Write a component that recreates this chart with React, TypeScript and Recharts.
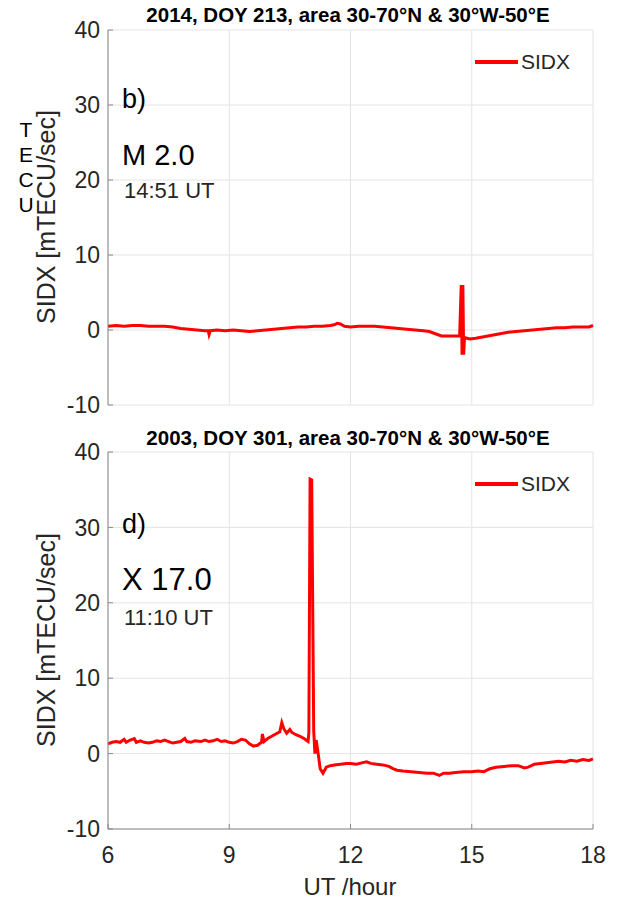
import React from 'react';
import { LineChart, Line, XAxis, YAxis, CartesianGrid, Legend } from 'recharts';

// 2014, DOY 213 (M 2.0 flare)
const hoursB = [
  6.0, 6.2, 6.4, 6.6, 6.8, 7.0, 7.2, 7.4, 7.6, 7.8, 8.0, 8.2, 8.4, 8.48, 8.5, 8.53,
  8.7, 8.9, 9.1, 9.3, 9.5, 9.7, 9.9, 10.1, 10.3, 10.5, 10.7, 10.9, 11.1, 11.3, 11.5,
  11.6, 11.67, 11.75, 11.85, 12.0, 12.2, 12.4, 12.6, 12.8, 13.0, 13.2, 13.4, 13.6,
  13.8, 13.95, 14.1, 14.25, 14.4, 14.55, 14.7, 14.74, 14.76, 14.78, 14.8, 14.82,
  14.95, 15.1, 15.3, 15.5, 15.7, 15.9, 16.1, 16.3, 16.5, 16.7, 16.9, 17.1, 17.3,
  17.5, 17.7, 17.9, 18.0,
];
const sidxB = [
  0.5, 0.6, 0.5, 0.6, 0.6, 0.5, 0.5, 0.5, 0.4, 0.2, 0.1, 0.0, -0.1, -0.1, -0.6, -0.1,
  0.0, -0.1, 0.0, -0.1, -0.2, -0.1, 0.0, 0.1, 0.2, 0.3, 0.4, 0.4, 0.5, 0.5, 0.6,
  0.7, 0.9, 0.8, 0.5, 0.4, 0.5, 0.5, 0.5, 0.4, 0.3, 0.2, 0.1, 0.0,
  -0.1, -0.2, -0.5, -0.8, -0.8, -0.8, -0.8, 6.0, -3.3, 6.0, -3.3, -1.0,
  -1.2, -1.1, -0.9, -0.7, -0.5, -0.3, -0.2, -0.1, 0.0, 0.1, 0.2, 0.3, 0.3,
  0.4, 0.4, 0.4, 0.6,
];

// 2003, DOY 301 (X 17.0 flare)
const hoursD = [
  6.0, 6.1, 6.2, 6.3, 6.4, 6.45, 6.55, 6.65, 6.7, 6.8, 6.9, 7.0, 7.1, 7.2, 7.3, 7.4,
  7.5, 7.6, 7.7, 7.8, 7.9, 7.95, 8.05, 8.15, 8.3, 8.4, 8.5, 8.6, 8.7, 8.8, 8.9, 9.0,
  9.1, 9.2, 9.3, 9.4, 9.5, 9.6, 9.7, 9.8, 9.82, 9.86, 9.95, 10.05, 10.15, 10.25,
  10.3, 10.35, 10.42, 10.5, 10.55, 10.65, 10.75, 10.85, 10.95, 10.97, 11.0, 11.04,
  11.09, 11.12, 11.15, 11.2, 11.25, 11.32, 11.4, 11.5, 11.6, 11.75, 11.9, 12.0,
  12.15, 12.3, 12.4, 12.5, 12.65, 12.8, 12.95, 13.05, 13.15, 13.3, 13.5, 13.7, 13.9,
  14.05, 14.2, 14.3, 14.45, 14.6, 14.8, 15.0, 15.15, 15.3, 15.45, 15.6, 15.8, 16.0,
  16.15, 16.3, 16.4, 16.55, 16.7, 16.85, 17.0, 17.15, 17.3, 17.45, 17.6, 17.75,
  17.9, 18.0,
];
const sidxD = [
  1.3, 1.5, 1.6, 1.5, 1.9, 1.5, 1.8, 2.0, 1.5, 1.7, 1.5, 1.4, 1.5, 1.7, 1.6, 1.8,
  1.6, 1.4, 1.5, 1.6, 2.0, 1.6, 1.5, 1.7, 1.6, 1.8, 1.6, 1.7, 1.9, 1.6, 1.7, 1.5,
  1.4, 1.6, 1.9, 1.8, 1.3, 1.0, 1.1, 1.5, 2.6, 1.6, 2.0, 2.3, 2.6, 2.9,
  4.1, 3.3, 2.7, 3.2, 2.8, 2.5, 2.3, 2.0, 1.6, 2.8, 36.4, 36.3,
  3.0, 0.0, 1.8, 0.0, -2.0, -2.6, -1.8, -1.6, -1.5, -1.4, -1.3, -1.3,
  -1.4, -1.2, -1.1, -1.3, -1.4, -1.5, -1.7, -2.0, -2.2, -2.3, -2.4, -2.5, -2.6,
  -2.6, -2.9, -2.6, -2.6, -2.5, -2.4, -2.4, -2.3, -2.4, -2.0, -1.8, -1.7, -1.6,
  -1.6, -1.9, -1.8, -1.4, -1.3, -1.2, -1.1, -1.0, -1.1, -0.9, -1.0, -0.8,
  -0.9, -0.7,
];

const xTicks = [6, 9, 12, 15, 18];
const yTicks = [-10, 0, 10, 20, 30, 40];
const tecuLetters = ['T', 'E', 'C', 'U'];

const rowsB = hoursB.map((h, i) => ({ ut: h, sidx: sidxB[i] }));
const rowsD = hoursD.map((h, i) => ({ ut: h, sidx: sidxD[i] }));

const FONT = '"Liberation Sans", Arial, Helvetica, sans-serif';
const AXIS = '#8a8a8a';
const INK = '#262626';

const LegendBox = () => (
  <svg width={120} height={30}>
    <line x1={5} y1={15} x2={48} y2={15} stroke="#ff0000" strokeWidth={4} />
    <text x={51} y={22} fontSize={21} fill={INK} fontFamily={FONT}>SIDX</text>
  </svg>
);

interface PanelProps {
  rows: { ut: number; sidx: number }[];
  height: number;
  top: number;
  bottom: number;
  bottomAxis: number;
  showLabels: boolean;
}

const Panel = ({ rows, height, top, bottom, bottomAxis, showLabels }: PanelProps) => (
  <LineChart
    width={625}
    height={height}
    data={rows}
    margin={{ top, right: 32, bottom, left: 58 }}
    style={{ fontFamily: FONT }}
  >
    <CartesianGrid stroke="#e4e4e4" strokeWidth={1} />
    <XAxis
      dataKey="ut"
      type="number"
      domain={[6, 18]}
      ticks={xTicks}
      interval={0}
      height={bottomAxis}
      stroke={AXIS}
      tickSize={-5}
      tickMargin={23}
      tick={{ fill: INK, fontSize: 23 }}
      tickFormatter={(v: number) => (showLabels ? String(v) : '')}
    />
    <XAxis
      xAxisId="top"
      orientation="top"
      type="number"
      domain={[6, 18]}
      ticks={xTicks}
      interval={0}
      height={0}
      stroke={AXIS}
      tickSize={-5}
      tickFormatter={() => ''}
    />
    <YAxis
      type="number"
      domain={[-10, 40]}
      ticks={yTicks}
      interval={0}
      width={50}
      stroke={AXIS}
      tickSize={-5}
      tickMargin={13}
      tick={{ fill: INK, fontSize: 23 }}
    />
    <YAxis
      yAxisId="right"
      orientation="right"
      type="number"
      domain={[-10, 40]}
      ticks={yTicks}
      interval={0}
      width={0}
      stroke={AXIS}
      tickSize={-5}
      tickFormatter={() => ''}
    />
    <Legend
      layout="vertical"
      align="center"
      verticalAlign="middle"
      wrapperStyle={{ position: 'absolute', left: 470, top: top + 17, width: 120 }}
      content={() => <LegendBox />}
    />
    <Line
      type="linear"
      dataKey="sidx"
      name="SIDX"
      stroke="#ff0000"
      strokeWidth={3}
      dot={false}
      isAnimationActive={false}
    />
  </LineChart>
);

const txt = { fontFamily: FONT, fill: '#000' };

export default function App() {
  return (
    <div style={{ position: 'absolute', left: 0, top: 0, width: 625, height: 903, background: '#fff' }}>
      <div style={{ position: 'absolute', left: 0, top: 0 }}>
        <Panel rows={rowsB} height={420} top={30} bottom={15} bottomAxis={0} showLabels={false} />
      </div>
      <div style={{ position: 'absolute', left: 0, top: 420 }}>
        <Panel rows={rowsD} height={483} top={32} bottom={0} bottomAxis={74} showLabels={true} />
      </div>
      <svg width={625} height={903} style={{ position: 'absolute', left: 0, top: 0, pointerEvents: 'none' }}>
        <text x={348} y={22} textAnchor="middle" fontSize={20.5} fontWeight="bold" {...txt}>
          2014, DOY 213, area 30-70°N &amp; 30°W-50°E
        </text>
        <text x={348} y={445} textAnchor="middle" fontSize={20.5} fontWeight="bold" {...txt}>
          2003, DOY 301, area 30-70°N &amp; 30°W-50°E
        </text>

        <text transform="translate(55,217) rotate(-90)" textAnchor="middle" fontSize={25} fill={INK} fontFamily={FONT}>
          SIDX [mTECU/sec]
        </text>
        <text transform="translate(55,640) rotate(-90)" textAnchor="middle" fontSize={25} fill={INK} fontFamily={FONT}>
          SIDX [mTECU/sec]
        </text>
        {tecuLetters.map((c, i) => (
          <text key={c} x={26} y={137 + i * 25} textAnchor="middle" fontSize={21} {...txt}>
            {c}
          </text>
        ))}

        <text x={122} y={108} fontSize={27} {...txt}>b)</text>
        <text x={122} y={165} fontSize={29} {...txt}>M 2.0</text>
        <text x={124} y={198} fontSize={22} fill={INK} fontFamily={FONT}>14:51 UT</text>

        <text x={122} y={533} fontSize={27} {...txt}>d)</text>
        <text x={122} y={590} fontSize={31} {...txt}>X 17.0</text>
        <text x={124} y={625} fontSize={22} fill={INK} fontFamily={FONT}>11:10 UT</text>

        <text x={350} y={895} textAnchor="middle" fontSize={24} fill={INK} fontFamily={FONT}>
          UT /hour
        </text>
      </svg>
    </div>
  );
}
